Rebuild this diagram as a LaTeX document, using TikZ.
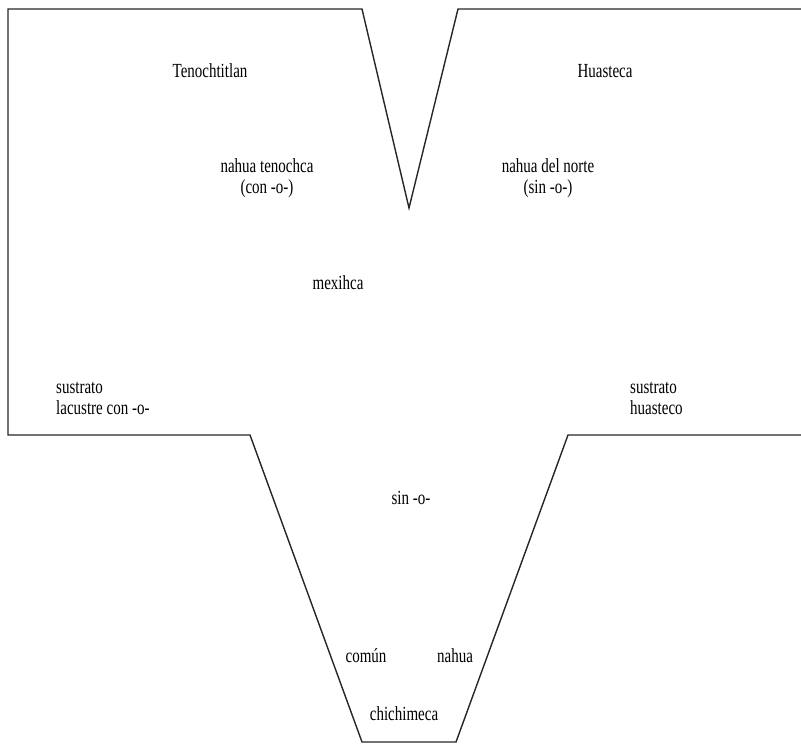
\documentclass[tikz,border=0pt]{standalone}
\usepackage{fontspec}
\setmainfont{Liberation Serif}
\newfontfamily\mapfont[FakeStretch=0.75]{Liberation Serif}
\usetikzlibrary{positioning}

\begin{document}
\begin{tikzpicture}[
  x=1pt, y=-1pt,
  lbl/.style={font=\mapfont\fontsize{20}{21}\selectfont, align=center, inner sep=0pt},
  lbll/.style={lbl, align=left, anchor=west},
  edge/.style={draw=black!85, line width=1.4pt, line join=miter}
]
\useasboundingbox (0,0) rectangle (801,744);

% outline of the territories
\draw[edge] (801,9) -- (458,9) -- (409,208) -- (362,9) -- (8,9)
  -- (8,435) -- (250,435) -- (362,742) -- (456,742) -- (568,435) -- (801,435);

\node[lbl] (tenoch) at (210,71) {Tenochtitlan};
\node[lbl] (huast) at (605,71) {Huasteca};

\node[lbl] (ntenoch) at (267,178) {nahua tenochca\\(con -o-)};
\node[lbl] (nnorte) at (548,178) {nahua del norte\\(sin -o-)};

\node[lbl] (mexihca) at (338,283) {mexihca};

\node[lbll] (slac) at (56,398) {sustrato\\lacustre con -o-};
\node[lbll] (shuast) at (630,398) {sustrato\\huasteco};

\node[lbl] (sino) at (411,498) {sin -o-};
\node[lbl] (comun) at (366,656) {común};
\node[lbl] (nahua) at (455,656) {nahua};
\node[lbl] (chichi) at (404,714) {chichimeca};
\end{tikzpicture}
\end{document}
